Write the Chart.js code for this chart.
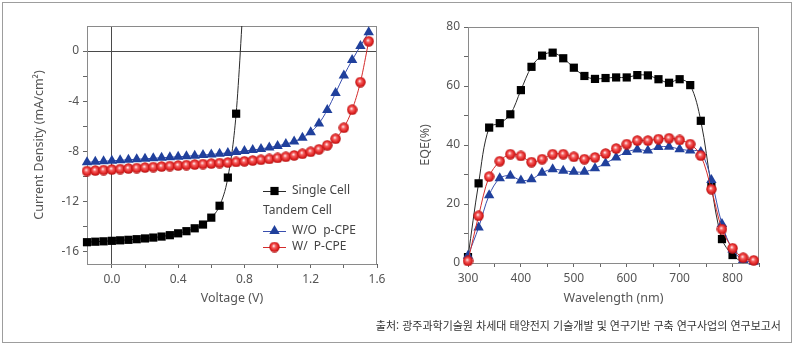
<!DOCTYPE html>
<html lang="ko">
<head>
<meta charset="utf-8">
<title>Tandem cell J-V / EQE</title>
<script src="https://cdn.jsdelivr.net/npm/chart.js@4.4.1/dist/chart.umd.min.js"></script>
<style>
    html, body { margin: 0; padding: 0; background: #fff; }
    body { width: 794px; height: 346px; position: relative; overflow: hidden; }
    .frame { position: absolute; left: 2px; top: 2px; width: 788px; height: 339px; border: 1px solid #9d9d9d; }
    .box { position: absolute; top: 0; height: 320px; }
    #leftBox { left: 0; width: 398px; }
    #rightBox { left: 398px; width: 396px; }
    .source { position: absolute; right: 13px; top: 317px; line-height: 16px; font-size: 11px;
              font-family: "Noto Sans CJK KR", sans-serif; color: #333; white-space: nowrap; }
</style>
</head>
<body>
<div class="frame"></div>
<div class="box" id="leftBox"><canvas id="chartJV"></canvas></div>
<div class="box" id="rightBox"><canvas id="chartEQE"></canvas></div>
<div class="source" id="source"></div>

<script>
// ---- data: J-V curves (left) ----
const voltageSingle = [-0.15, -0.10, -0.05, 0.00, 0.05, 0.10, 0.15, 0.20, 0.25, 0.30,
    0.35, 0.40, 0.45, 0.50, 0.55, 0.60, 0.65, 0.70, 0.75, 0.80];
const currentSingle = [-15.26, -15.22, -15.19, -15.15, -15.11, -15.07, -15.02, -14.96, -14.89, -14.81,
    -14.70, -14.55, -14.38, -14.15, -13.85, -13.30, -12.35, -10.10, -5.00, 5.50];

const voltageTandem = [-0.15, -0.10, -0.05, 0.00, 0.05, 0.10, 0.15, 0.20, 0.25, 0.30,
    0.35, 0.40, 0.45, 0.50, 0.55, 0.60, 0.65, 0.70, 0.75, 0.80,
    0.85, 0.90, 0.95, 1.00, 1.05, 1.10, 1.15, 1.20, 1.25, 1.30,
    1.35, 1.40, 1.45, 1.50, 1.55];
const currentWithout = [-8.88, -8.84, -8.80, -8.76, -8.72, -8.68, -8.64, -8.60, -8.56, -8.52,
    -8.48, -8.44, -8.40, -8.35, -8.30, -8.25, -8.19, -8.13, -8.06, -7.98,
    -7.90, -7.81, -7.70, -7.57, -7.42, -7.22, -6.92, -6.48, -5.78, -4.70,
    -3.35, -1.95, -0.72, 0.40, 1.50];
const currentWith = [-9.58, -9.54, -9.50, -9.46, -9.42, -9.38, -9.34, -9.30, -9.26, -9.22,
    -9.18, -9.14, -9.10, -9.06, -9.02, -8.98, -8.94, -8.90, -8.85, -8.80,
    -8.74, -8.68, -8.61, -8.53, -8.44, -8.33, -8.20, -8.04, -7.84, -7.52,
    -7.00, -6.12, -4.68, -2.48, 0.78];

// ---- data: EQE spectra (right) ----
const wavelength = [300, 320, 340, 360, 380, 400, 420, 440, 460, 480,
    500, 520, 540, 560, 580, 600, 620, 640, 660, 680,
    700, 720, 740, 760, 780, 800, 820, 840];
const eqeSingle = [2.0, 27.0, 45.9, 47.4, 50.4, 58.6, 66.5, 70.3, 71.3, 69.4,
    66.2, 63.4, 62.4, 62.7, 62.9, 62.9, 63.7, 63.6, 62.3, 61.1,
    62.3, 60.3, 48.2, 26.0, 8.1, 2.7, 0.0, null];
const eqeWithout = [2.5, 12.0, 23.0, 28.7, 29.6, 28.0, 28.4, 30.6, 31.8, 31.3,
    30.9, 30.9, 32.1, 33.8, 35.8, 37.6, 38.5, 38.1, 39.3, 39.4,
    38.6, 38.1, 37.6, 28.1, 13.2, 4.6, 1.0, 0.4];
const eqeWith = [0.7, 16.0, 29.3, 34.5, 36.9, 36.3, 34.2, 35.2, 36.9, 36.9,
    36.0, 35.2, 35.8, 37.1, 38.8, 40.3, 41.5, 41.5, 42.0, 42.3,
    41.7, 40.3, 36.4, 25.0, 11.5, 5.0, 1.8, 0.9];

// ---- labels / ticks ----
const seriesLabels = ['Single Cell', 'W/O  p-CPE', 'W/  P-CPE'];
const groupLabel = 'Tandem Cell';
const jvXTicks = [0, 0.2, 0.4, 0.6, 0.8, 1.0, 1.2, 1.4, 1.6];
const jvXLabels = ['0.0', '', '0.4', '', '0.8', '', '1.2', '', '1.6'];
const jvYTicks = [-16, -14, -12, -10, -8, -6, -4, -2, 0];
const jvYLabels = ['-16', '', '-12', '', '-8', '', '-4', '', '0'];
const eqeXTicks = [300, 350, 400, 450, 500, 550, 600, 650, 700, 750, 800, 850];
const eqeXLabels = ['300', '', '400', '', '500', '', '600', '', '700', '', '800', ''];
const eqeYTicks = [0, 10, 20, 30, 40, 50, 60, 70, 80];
const eqeYLabels = ['0', '', '20', '', '40', '', '60', '', '80'];
const sourceText = '출처: 광주과학기술원 차세대 태양전지 기술개발 및 연구기반 구축 연구사업의 연구보고서';

document.getElementById('source').textContent = sourceText;

const FONT = '"Noto Sans", sans-serif';
const TEXT_COLOR = '#555';
Chart.defaults.font.family = FONT;
Chart.defaults.color = TEXT_COLOR;

function pairs(xs, ys) {
    return xs.map((x, i) => ({ x: x, y: ys[i] }));
}

function makeSphere(size) {
    const c = document.createElement('canvas');
    c.width = size;
    c.height = size;
    const g = c.getContext('2d');
    const r = size / 2;
    const grad = g.createRadialGradient(r * 0.85, r * 0.8, 0.3, r, r, r);
    grad.addColorStop(0, '#ffecec');
    grad.addColorStop(0.3, '#f46060');
    grad.addColorStop(0.7, '#e02222');
    grad.addColorStop(1, '#a80d0d');
    g.fillStyle = grad;
    g.beginPath();
    g.arc(r, r, r - 0.3, 0, Math.PI * 2);
    g.fill();
    return c;
}
const sphere = makeSphere(11);

const styleSingle = {
    borderColor: '#2a2a2a', borderWidth: 1,
    pointStyle: 'rect', pointRadius: 5.8, pointBackgroundColor: '#000', pointBorderColor: '#000', pointBorderWidth: 0
};
const styleWithout = {
    borderColor: '#3a4fae', borderWidth: 1,
    pointStyle: 'triangle', pointRadius: 6, pointBackgroundColor: '#20409c', pointBorderColor: '#20409c', pointBorderWidth: 0
};
const styleWith = {
    borderColor: '#d42c2c', borderWidth: 1,
    pointStyle: sphere, pointRadius: 5.5, pointBackgroundColor: '#e02525', pointBorderColor: '#e02525', pointBorderWidth: 0
};

const framePlugin = {
    id: 'plotFrame',
    beforeDatasetsDraw(chart) {
        const { ctx, chartArea: a } = chart;
        ctx.save();
        ctx.strokeStyle = '#8a8a8a';
        ctx.lineWidth = 1;
        ctx.strokeRect(a.left + 0.5, a.top + 0.5, a.right - a.left - 1, a.bottom - a.top);
        ctx.restore();
    }
};

const legendPlugin = {
    id: 'cellLegend',
    afterDatasetsDraw(chart, args, opts) {
        const ctx = chart.ctx;
        ctx.save();
        ctx.font = '12px ' + FONT;
        ctx.textBaseline = 'middle';
        ctx.fillStyle = '#444';
        ctx.fillText(groupLabel, opts.x, opts.groupY);
        opts.rows.forEach(row => {
            const ds = chart.data.datasets[row.dataset];
            const mid = opts.x + opts.lineLength / 2;
            ctx.strokeStyle = ds.borderColor;
            ctx.lineWidth = 1;
            ctx.beginPath();
            ctx.moveTo(opts.x, row.y + 0.5);
            ctx.lineTo(opts.x + opts.lineLength, row.y + 0.5);
            ctx.stroke();
            ctx.fillStyle = ds.pointBackgroundColor;
            ctx.strokeStyle = ds.pointBorderColor;
            Chart.helpers.drawPoint(ctx, {
                pointStyle: ds.pointStyle, radius: ds.pointRadius, rotation: 0, borderWidth: 0
            }, mid, row.y);
            ctx.fillStyle = '#444';
            ctx.fillText(ds.label, opts.textX, row.y);
        });
        ctx.restore();
    }
};

function axis(ticks, labels, size, title, titlePad, zeroLine) {
    return {
        type: 'linear',
        afterBuildTicks: scale => { scale.ticks = ticks.map(v => ({ value: v })); },
        afterFit: scale => {
            if (scale.isHorizontal()) scale.height = size; else scale.width = size;
        },
        ticks: {
            autoSkip: false, maxRotation: 0, padding: 4,
            color: TEXT_COLOR, font: { size: 12 },
            callback: (value, index) => labels[index]
        },
        grid: {
            drawOnChartArea: zeroLine,
            color: c => (zeroLine && c.tick && c.tick.value === 0) ? '#4a4a4a' : 'rgba(0,0,0,0)',
            tickColor: '#666', tickLength: 4, lineWidth: 1
        },
        border: { display: true, color: '#555', width: 1 },
        title: {
            display: true, text: title, color: TEXT_COLOR,
            font: { size: 12.5 }, padding: titlePad
        }
    };
}

const commonPlugins = {
    legend: { display: false },
    tooltip: { enabled: false }
};

const chartJV = new Chart(document.getElementById('chartJV').getContext('2d'), {
    type: 'line',
    data: {
        datasets: [
            { label: seriesLabels[0], data: pairs(voltageSingle, currentSingle), order: 3,
              cubicInterpolationMode: 'monotone', ...styleSingle },
            { label: seriesLabels[1], data: pairs(voltageTandem, currentWithout), order: 2,
              cubicInterpolationMode: 'monotone', ...styleWithout },
            { label: seriesLabels[2], data: pairs(voltageTandem, currentWith), order: 1,
              cubicInterpolationMode: 'monotone', ...styleWith }
        ]
    },
    options: {
        responsive: true,
        maintainAspectRatio: false,
        animation: false,
        clip: { left: 6, top: 0, right: 6, bottom: 6 },
        layout: { padding: { left: 24, right: 21, top: 26, bottom: 6 } },
        scales: {
            x: { ...axis(jvXTicks, jvXLabels, 50, 'Voltage (V)', { top: 0, bottom: 8.5 }, true), min: -0.15, max: 1.6 },
            y: { ...axis(jvYTicks, jvYLabels, 63, 'Current Density (mA/cm²)', { top: 7.5, bottom: 0 }, true), min: -17, max: 2 }
        },
        plugins: {
            ...commonPlugins,
            cellLegend: {
                x: 263, lineLength: 23, textX: 292, groupY: 211,
                rows: [{ dataset: 0, y: 191 }, { dataset: 1, y: 231 }, { dataset: 2, y: 247 }]
            }
        }
    },
    plugins: [framePlugin, legendPlugin]
});

const chartEQE = new Chart(document.getElementById('chartEQE').getContext('2d'), {
    type: 'line',
    data: {
        datasets: [
            { label: seriesLabels[0], data: pairs(wavelength, eqeSingle), order: 3, tension: 0.35,
              ...styleSingle, pointRadius: c => (c.raw && c.raw.y > 0.5 ? 5.8 : 0) },
            { label: seriesLabels[1], data: pairs(wavelength, eqeWithout), order: 2, tension: 0.35, ...styleWithout },
            { label: seriesLabels[2], data: pairs(wavelength, eqeWith), order: 1, tension: 0.35, ...styleWith }
        ]
    },
    options: {
        responsive: true,
        maintainAspectRatio: false,
        animation: false,
        clip: { left: 6, top: 0, right: 6, bottom: 6 },
        layout: { padding: { left: 10, right: 35, top: 27, bottom: 7 } },
        scales: {
            x: { ...axis(eqeXTicks, eqeXLabels, 50, 'Wavelength (nm)', { top: 0, bottom: 7.5 }, false), min: 300, max: 850 },
            y: { ...axis(eqeYTicks, eqeYLabels, 60, 'EQE(%)', { top: 9.5, bottom: 0 }, false), min: 0, max: 80 }
        },
        plugins: commonPlugins
    },
    plugins: [framePlugin]
});
</script>
</body>
</html>
